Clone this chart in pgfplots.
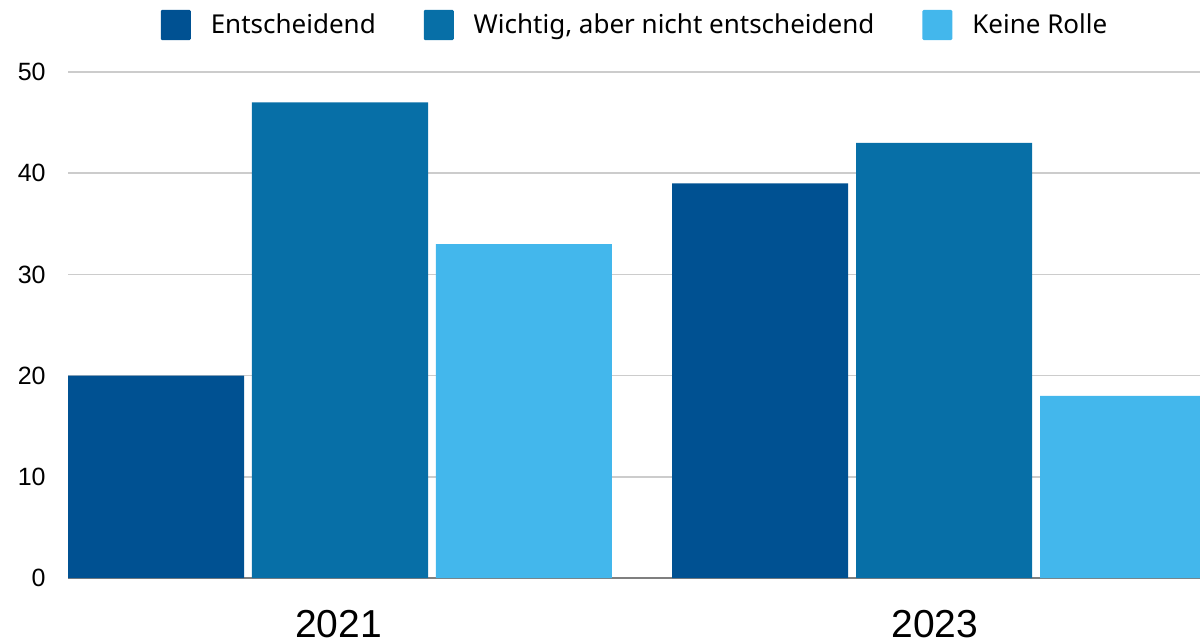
\documentclass[border=0pt]{standalone}
\usepackage{fontspec}
\setmainfont{Liberation Sans}
\newfontfamily\legfont{Noto Sans}
\usepackage{pgfplots}
\pgfplotsset{compat=1.18}
\definecolor{cDark}{HTML}{005192}
\definecolor{cMid}{HTML}{076FA7}
\definecolor{cLight}{HTML}{43B7EC}
\definecolor{cGrid}{HTML}{CCCCCC}
\definecolor{cAxis}{HTML}{7F7F7F}
\begin{document}
\begin{tikzpicture}
\begin{axis}[
  scale only axis,
  width=566bp, height=253bp,
  at={(0,0)}, anchor=south west,
  xmin=-0.4503, xmax=1.4238,
  ymin=0, ymax=50,
  axis line style={draw=none},
  major tick length=0pt,
  xtick={-0.0025,0.985},
  xticklabels={2021,2023},
  xticklabel style={font=\fontsize{19.5bp}{22bp}\selectfont, anchor=north, inner sep=0pt, yshift=-16bp},
  ytick={10,20,30,40,50},
  yticklabel style={font=\fontsize{12.5bp}{14bp}\selectfont, anchor=east, inner sep=0pt, xshift=-11bp},
  /pgf/number format/assume math mode=true,
  extra y ticks={0},
  extra y tick labels={0},
  extra y tick style={grid style={draw=cAxis, line width=1bp}},
  ymajorgrids,
  grid style={draw=cGrid, line width=0.8bp},
  legend columns=3,
  legend style={draw=none, fill=none, at={(0.5018,1.0929)}, anchor=center,
    font=\legfont\fontsize{13bp}{15bp}\selectfont,
    /tikz/every odd column/.append style={column sep=8bp},
    /tikz/every even column/.append style={column sep=22bp}},
  legend cell align=left,
]
\addplot[ybar, bar width=0.2914, bar shift=0pt, fill=cDark, draw=none,
  legend image code/.code={\fill[cDark, rounded corners=0.6bp] (0bp,-7.5bp) rectangle (15bp,7.5bp);}]
  coordinates {(-0.3046,20) (0.6954,39)};
\addlegendentry{Entscheidend}
\addplot[ybar, bar width=0.2914, bar shift=0pt, fill=cMid, draw=none,
  legend image code/.code={\fill[cMid, rounded corners=0.6bp] (0bp,-7.5bp) rectangle (15bp,7.5bp);}]
  coordinates {(0,47) (1,43)};
\addlegendentry{Wichtig, aber nicht entscheidend}
\addplot[ybar, bar width=0.2914, bar shift=0pt, fill=cLight, draw=none,
  legend image code/.code={\fill[cLight, rounded corners=0.6bp] (0bp,-7.5bp) rectangle (15bp,7.5bp);}]
  coordinates {(0.3046,33) (1.3046,18)};
\addlegendentry{Keine Rolle}
\end{axis}
\pgfresetboundingbox
\path[use as bounding box] (-34bp,-32.5bp) rectangle (566bp,289bp);
\end{tikzpicture}
\end{document}
